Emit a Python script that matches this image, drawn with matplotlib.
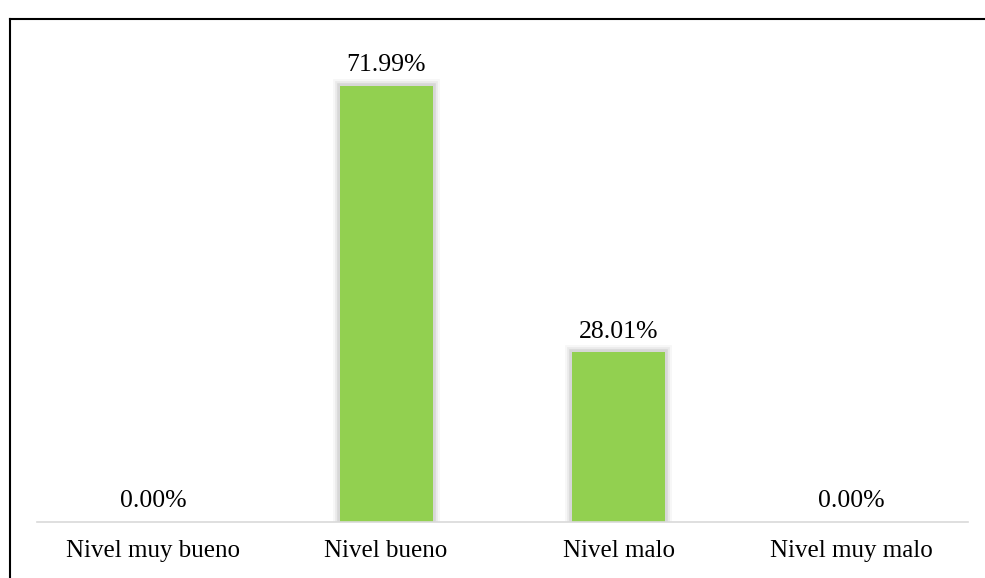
import matplotlib.pyplot as plt
import matplotlib.patheffects as pe
from matplotlib.lines import Line2D

categorias = ['Nivel muy bueno', 'Nivel bueno', 'Nivel malo', 'Nivel muy malo']
porcentajes = [0.00, 71.99, 28.01, 0.00]

plt.rcParams['font.family'] = ['Liberation Serif', 'DejaVu Serif']

W, H = 985, 578
fig = plt.figure(figsize=(W / 100, H / 100), dpi=100)

# axes: x from 37 to 968 px, baseline at y=522 px
x0, x1 = 37, 968
yb = 522
ymax = 80
top_px = yb - 436 * ymax / 71.99
ax = fig.add_axes([x0 / W, 1 - yb / H, (x1 - x0) / W, (yb - top_px) / H])

pos = range(len(categorias))
bars = ax.bar(pos, porcentajes, width=0.4, color='#92d050', zorder=3)

# soft shadow around the bars
for b in bars:
    if b.get_height() > 0:
        b.set_path_effects([
            pe.withStroke(linewidth=10, foreground='#000000', alpha=0.03),
            pe.withStroke(linewidth=7, foreground='#000000', alpha=0.05),
            pe.withStroke(linewidth=4, foreground='#000000', alpha=0.08),
            pe.Normal(),
        ])
        b.set_linewidth(0)

for i, v in enumerate(porcentajes):
    ax.annotate(f'{v:.2f}%', (i, v), xytext=(0, 7), textcoords='offset points',
                ha='center', va='bottom', fontsize=18.5, color='#000000')

ax.set_xlim(-0.5, len(categorias) - 0.5)
ax.set_ylim(0, ymax)
ax.set_xticks(list(pos))
ax.set_xticklabels(categorias, fontsize=18)
ax.tick_params(axis='x', length=0, pad=13)
ax.set_yticks([])
for s in ['top', 'right', 'left']:
    ax.spines[s].set_visible(False)
ax.spines['bottom'].set_color('#d9d9d9')
ax.spines['bottom'].set_linewidth(1.2)
ax.spines['bottom'].set_zorder(4)

# outer frame lines (left and top)
fig.add_artist(Line2D([10 / W, 10 / W], [0, 1 - 19 / H], color='black', lw=1.5))
fig.add_artist(Line2D([10 / W, 1], [1 - 19 / H, 1 - 19 / H], color='black', lw=1.5))

fig.savefig('out.png', dpi=100, facecolor='white')
